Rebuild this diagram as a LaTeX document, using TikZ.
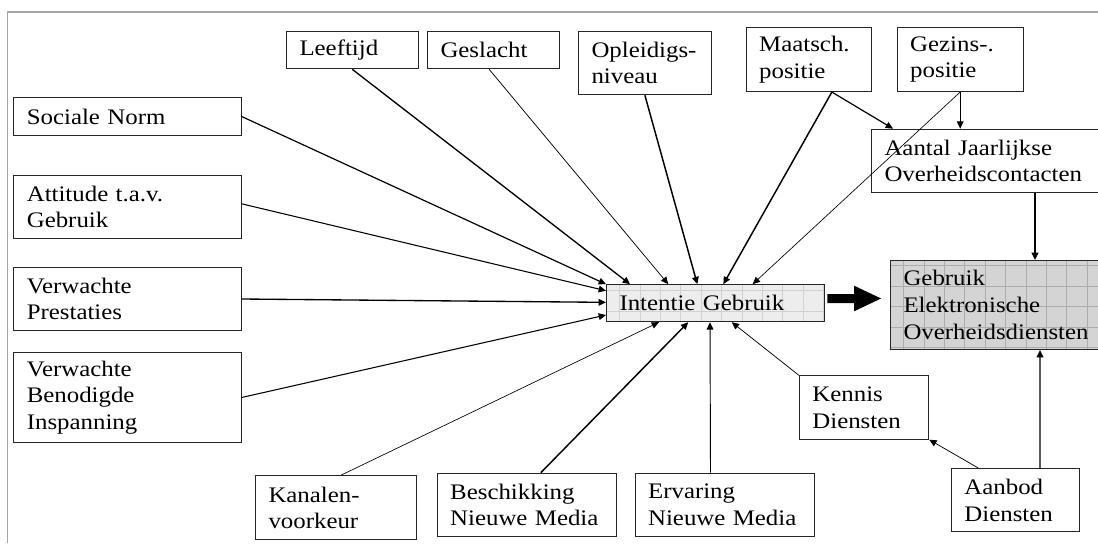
\documentclass[tikz,border=0pt]{standalone}
\usepackage{fontspec}
\setmainfont{Liberation Serif}[FakeStretch=1.12]
\usetikzlibrary{arrows.meta}
\begin{document}
\begin{tikzpicture}[x=0.75pt,y=-0.75pt,
  box/.style={draw=black!85, line width=0.75pt, anchor=north west, inner xsep=9.75pt, inner ysep=0pt,
    align=left, font=\fontsize{16.65}{20}\selectfont},
  gridfill/.style 2 args={fill=#1, path picture={\draw[#2, line width=0.35pt]
      (path picture bounding box.south west) grid[step=15.3pt] (path picture bounding box.north east);}},
  arr/.style={-{Triangle[length=5.5pt,width=5pt]}, line width=#1},
  arr/.default=0.6pt,
  framecol/.style={draw=black!35, line width=1pt}
]
\clip (0,0) rectangle (1098,543);
\fill[white] (0,0) rectangle (1098,543);
\draw[framecol] (7.7,543) -- (7.7,12) -- (1098,12);

% top row
\node[box, minimum width=98.63pt, minimum height=28.2pt, text width=79.13pt] (lee) at (286,30.7) {Leeftijd};
\node[box, minimum width=98.78pt, minimum height=28.2pt, text width=79.28pt] (ges) at (427,30.7) {Geslacht};
\node[box, minimum width=99.6pt, minimum height=47.7pt, text width=80.1pt] (opl) at (578,30.7) {Opleidigs-\\niveau};
\node[box, minimum width=93.9pt, minimum height=47.8pt, text width=74.4pt] (maa) at (745.7,27.3) {Maatsch.\\positie};
\node[box, minimum width=94.5pt, minimum height=47.8pt, text width=75pt] (gez) at (896.7,27.3) {Gezins-.\\positie};
\node[box, fill=white, minimum width=187.5pt, minimum height=47.7pt, text width=168pt] (aan) at (871,128.7) {Aantal~Jaarlijkse\\Overheidscontacten};

% left column
\node[box, minimum width=170.5pt, minimum height=28.05pt, text width=151pt] (soc) at (13.3,97.3) {Sociale~Norm};
\node[box, minimum width=170.5pt, minimum height=47.7pt, text width=151pt] (att) at (13.3,174.7) {Attitude~t.a.v.\\Gebruik};
\node[box, minimum width=170.5pt, minimum height=47.7pt, text width=151pt] (pre) at (13.3,266.7) {Verwachte\\Prestaties};
\node[box, minimum width=170.5pt, minimum height=67.05pt, text width=151pt] (ins) at (13.3,352.3) {Verwachte\\Benodigde\\Inspanning};

% bottom row
\node[box, minimum width=120.45pt, minimum height=48pt, text width=100.95pt] (kan) at (255,475.3) {Kanalen-\\voorkeur};
\node[box, minimum width=134.8pt, minimum height=47.5pt, text width=115.3pt] (bes) at (436.7,472.7) {Beschikking\\Nieuwe~Media};
\node[box, minimum width=134.7pt, minimum height=47.5pt, text width=115.2pt] (erv) at (634.6,472.7) {Ervaring\\Nieuwe~Media};
\node[box, minimum width=97pt, minimum height=47.55pt, text width=77.5pt] (ken) at (798.9,375.3) {Kennis\\Diensten};
\node[box, minimum width=96.4pt, minimum height=47.5pt, text width=76.9pt] (aab) at (950.9,468) {Aanbod\\Diensten};

% central boxes
\node[box, gridfill={black!7}{black!18}, minimum width=163.7pt, minimum height=27.75pt, text width=144.2pt] (int) at (606,284.2) {Intentie~Gebruik};
\node[box, gridfill={black!17}{black!32}, minimum width=187.5pt, minimum height=66.75pt, text width=168pt] (geb) at (890,260) {Gebruik\\Elektronische\\Overheidsdiensten};

% connectors into Intentie Gebruik (top)
\draw[arr=1pt] (lee.south) -- ([xshift=18pt]int.north west);
\draw[arr=0.55pt] ([xshift=-3.15pt]ges.south) -- ([xshift=46.7pt]int.north west);
\draw[arr=1.1pt] (opl.south) -- ([xshift=68.5pt]int.north west);
\draw[arr=1.1pt] ([xshift=17.3pt]maa.south) -- ([xshift=88pt]int.north west);
\draw[arr=0.5pt] (gez.south) -- ([xshift=110pt]int.north west);

% left
\draw[arr=0.9pt] (soc.east) -- (int.north west);
\draw[arr=0.8pt] ([yshift=2.4pt]att.east) -- ([yshift=-4.9pt]int.north west);
\draw[arr=1pt] (pre.east) -- ([yshift=-13.6pt]int.north west);
\draw[arr=0.8pt] (ins.east) -- ([yshift=-23.1pt]int.north west);

% bottom
\draw[arr=0.5pt] ([xshift=3.7pt]kan.north) -- ([xshift=39.75pt]int.south west);
\draw[arr=1.1pt] ([xshift=10.3pt]bes.north) -- ([xshift=61.7pt]int.south west);
\draw[arr=0.7pt] ([xshift=-10.8pt]erv.north) -- ([xshift=78pt]int.south west);
\draw[arr=0.55pt] (ken.north west) -- ([xshift=94.3pt]int.south west);

% right side
\draw[arr=0.9pt] ([xshift=17.3pt]maa.south) -- ([xshift=16.5pt]aan.north west);
\draw[arr=0.9pt] (gez.south) -- (gez.south |- aan.north);
\draw[arr=1.1pt] ([xshift=123pt]aan.south west) -- ([xshift=108.75pt]geb.north west);
\draw[arr=1.1pt] ([xshift=66.8pt]aab.north west) -- ([xshift=112.5pt]geb.south west);
\draw[arr=0.55pt] ([xshift=20.5pt]aab.north west) -- (ken.south east);

% big arrow
\draw[line width=6.75pt, -{Triangle[length=21pt,width=17.5pt]}]
  ([xshift=1.5pt,yshift=3.5pt]int.east) -- ([xshift=-6pt,yshift=4.9pt]geb.west);
\end{tikzpicture}
\end{document}
